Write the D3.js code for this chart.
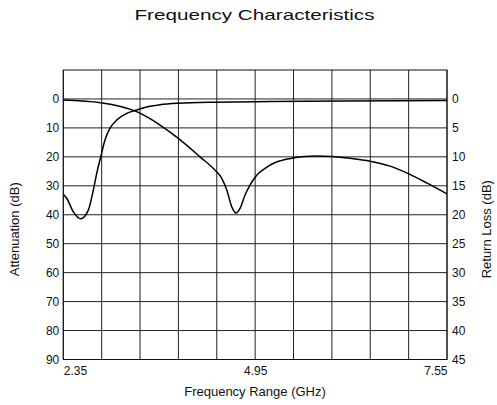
<!DOCTYPE html>
<html>
<head>
<meta charset="utf-8">
<script src="https://cdn.jsdelivr.net/npm/d3@7"></script>
<style>
  html, body { margin: 0; padding: 0; background: #fff; }
  svg { display: block; font-family: "Liberation Sans", Arial, sans-serif; }
</style>
</head>
<body>
<svg id="chart" width="497" height="405"></svg>
<script>
// ---- data ----
const attenFreq = [2.35, 2.396, 2.486, 2.586, 2.689, 2.757, 2.803, 2.857, 2.915, 2.983, 3.074, 3.209, 3.345, 3.525, 3.661, 3.909, 4.429, 5.151, 6.235, 7.55];
const attenDb   = [32.9, 34.3, 39.0, 41.4, 38.4, 31.5, 25.7, 20.0, 14.2, 10.1, 7.3, 5.0, 3.8, 2.5, 2.0, 1.5, 1.1, 0.9, 0.7, 0.5];

const rlFreq = [2.35, 2.857, 3.345, 3.525, 3.661, 3.909, 4.203, 4.406, 4.497, 4.565, 4.632, 4.691, 4.745, 4.813, 4.88, 4.94, 5.0, 5.06, 5.13, 5.2, 5.3, 5.467, 5.62, 5.784, 5.988, 6.236, 6.507, 6.778, 7.026, 7.275, 7.55];
const rlDb   = [0.17, 0.64, 2.2, 3.4, 4.5, 6.8, 10.0, 12.3, 13.7, 15.7, 18.6, 19.7, 18.9, 16.6, 14.9, 13.7, 12.8, 12.2, 11.6, 11.1, 10.65, 10.2, 9.95, 9.86, 9.95, 10.26, 10.75, 11.6, 12.9, 14.5, 16.4];

const xGridValues = [2.35, 2.87, 3.39, 3.91, 4.43, 4.95, 5.47, 5.99, 6.51, 7.03, 7.55];
const xTickLabels = ["2.35", "4.95", "7.55"];
const leftTicks  = [0, 10, 20, 30, 40, 50, 60, 70, 80, 90];
const rightTicks = [0, 5, 10, 15, 20, 25, 30, 35, 40, 45];

// ---- layout ----
const L = 63.3, R = 447, T = 70, B = 359.5;
const svg = d3.select("#chart");

const x = d3.scaleLinear().domain([2.35, 7.55]).range([L, R]);
const yL = d3.scaleLinear().domain([-10, 90]).range([T, B]);
const yR = d3.scaleLinear().domain([-5, 45]).range([T, B]);

// grid
const g = svg.append("g");
g.selectAll("line.v").data(xGridValues).join("line")
  .attr("x1", d => x(d)).attr("x2", d => x(d))
  .attr("y1", T).attr("y2", B)
  .attr("stroke", "#222").attr("stroke-width", 1);
g.selectAll("line.h").data(leftTicks).join("line")
  .attr("x1", L).attr("x2", R)
  .attr("y1", d => yL(d)).attr("y2", d => yL(d))
  .attr("stroke", "#222").attr("stroke-width", 1);
g.append("rect").attr("x", L).attr("y", T).attr("width", R - L).attr("height", B - T)
  .attr("fill", "none").attr("stroke", "#111").attr("stroke-width", 1);

// axes (labels only)
const axL = d3.axisLeft(yL).tickValues(leftTicks).tickSize(0).tickPadding(4);
const axR = d3.axisRight(yR).tickValues(rightTicks).tickSize(0).tickPadding(5);
const gl = svg.append("g").attr("transform", `translate(${L},0)`).call(axL);
const gr = svg.append("g").attr("transform", `translate(${R},0)`).call(axR);
[gl, gr].forEach(a => {
  a.select(".domain").remove();
  a.selectAll("text").attr("font-size", 12).attr("fill", "#111")
    .attr("font-family", "'Liberation Sans', Arial, sans-serif");
});

const axB = d3.axisBottom(x).tickValues(xTickLabels.map(Number)).tickFormat((d, i) => xTickLabels[i]).tickSize(0).tickPadding(7);
const gb = svg.append("g").attr("transform", `translate(0,${B})`).call(axB);
gb.select(".domain").remove();
gb.selectAll("text").attr("font-size", 12).attr("fill", "#111")
  .attr("font-family", "'Liberation Sans', Arial, sans-serif")
  .attr("text-anchor", (d, i) => i === 0 ? "start" : (i === xTickLabels.length - 1 ? "end" : "middle"));

// curves
const lineA = d3.line().x((d, i) => x(attenFreq[i])).y(d => yL(d)).curve(d3.curveMonotoneX);
const lineR = d3.line().x((d, i) => x(rlFreq[i])).y(d => yR(d)).curve(d3.curveMonotoneX);
svg.append("path").attr("d", lineA(attenDb)).attr("fill", "none").attr("stroke", "#000").attr("stroke-width", 1.5);
svg.append("path").attr("d", lineR(rlDb)).attr("fill", "none").attr("stroke", "#000").attr("stroke-width", 1.5);

// titles
svg.append("text").attr("x", 254.5).attr("y", 19.5).attr("text-anchor", "middle")
  .attr("font-size", 15).attr("fill", "#111")
  .attr("textLength", 240).attr("lengthAdjust", "spacingAndGlyphs")
  .text("Frequency Characteristics");
svg.append("text").attr("x", 255).attr("y", 396).attr("text-anchor", "middle")
  .attr("font-size", 13).attr("fill", "#111").text("Frequency Range (GHz)");
svg.append("text").attr("transform", `translate(19,${yL(45)}) rotate(-90)`)
  .attr("text-anchor", "middle").attr("font-size", 13).attr("fill", "#111").text("Attenuation (dB)");
svg.append("text").attr("transform", `translate(491,${yL(45)}) rotate(-90)`)
  .attr("text-anchor", "middle").attr("font-size", 13).attr("fill", "#111").text("Return Loss (dB)");
</script>
</body>
</html>
